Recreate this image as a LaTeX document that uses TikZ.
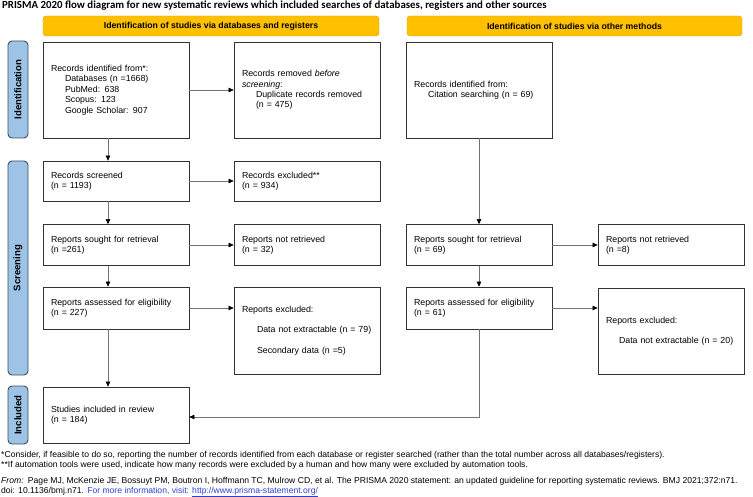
\documentclass[tikz,border=0pt]{standalone}
\usepackage{fontspec}
\setmainfont{Liberation Sans}
\newfontfamily\calibri{Carlito}
\usetikzlibrary{arrows.meta, positioning}
\definecolor{hdrfill}{HTML}{FFC000}
\definecolor{hdrline}{HTML}{D9A300}
\definecolor{barfill}{HTML}{9DC3E6}
\definecolor{barline}{HTML}{3F4F5F}
\definecolor{linkblue}{HTML}{2F3FD0}
\tikzset{>={Triangle[length=5pt,width=4.5pt,color=black]}}

\begin{document}
\begin{tikzpicture}[x=1pt,y=-1pt,
    box/.style={draw=black!80, line width=.7pt, fill=white, minimum width=146pt,
      text width=130pt, inner xsep=8pt, inner ysep=0pt, align=left,
      font=\fontsize{8.8}{10.4}\selectfont},
    hdr/.style={draw=hdrline, fill=hdrfill, rounded corners=3pt, minimum height=20pt,
      font=\fontsize{8.7}{10}\selectfont\bfseries},
    bar/.style={draw=barline, fill=barfill, line width=.9pt, rounded corners=4pt,
      rotate=90, minimum height=20pt, inner sep=0pt,
      font=\fontsize{9.6}{10}\selectfont\bfseries},
    arr/.style={->, draw=black!55, line width=.6pt},
    note/.style={anchor=north west, align=left, inner sep=0pt,
      font=\fontsize{8.6}{10}\selectfont}]
  \useasboundingbox (0,0) rectangle (753,497);

  % title and column headers
  \node (title) at (2,6) [anchor=west, inner sep=0pt,
    font=\calibri\bfseries\fontsize{10.85}{12}\selectfont]
    {PRISMA 2020 flow diagram for new systematic reviews which included searches of databases, registers and other sources};
  \node (hdrdb) at (211,26) [hdr, minimum width=336pt] {Identification of studies via databases and registers};
  \node (hdroth) at (574.5,26) [hdr, minimum width=335pt] {Identification of studies via other methods};

  % stage bars
  \node (barid) at (18,89.5) [bar, minimum width=97pt] {Identification};
  \node (barscr) at (18,268) [bar, minimum width=214pt] {Screening};
  \node (barinc) at (18,415) [bar, minimum width=58pt] {Included};

  % databases and registers
  \node (idrec) at (116,90) [box, minimum height=96pt]
    {Records identified from*:\\ \hspace*{14pt}Databases (n =1668)\\ \hspace*{14pt}PubMed: 638\\
     \hspace*{14pt}Scopus: 123\\ \hspace*{14pt}Google Scholar: 907};
  \node (idrem) at (307,90) [box, minimum height=96pt]
    {Records removed \textit{before}\\ \textit{screening}:\\ \hspace*{14pt}Duplicate records removed\\
     \hspace*{14pt}(n = 475)};
  \node (screen) at (116,181) [box, minimum height=40pt] {Records screened\\(n = 1193)};
  \node (exclrec) at (307,181) [box, minimum height=40pt] {Records excluded**\\(n = 934)};
  \node (soughtdb) at (116,245) [box, minimum height=41pt] {Reports sought for retrieval\\(n =261)};
  \node (notretdb) at (307,245) [box, minimum height=41pt] {Reports not retrieved\\(n = 32)};
  \node (assessdb) at (116,308) [box, minimum height=42pt] {Reports assessed for eligibility\\(n = 227)};
  \node (excldb) at (307,330.5) [box, minimum height=87pt]
    {Reports excluded:\\[10pt] \hspace*{15pt}Data not extractable (n = 79)\\[10pt]
     \hspace*{15pt}Secondary data (n =5)};
  \node (incl) at (116,415) [box, minimum height=56pt] {Studies included in review\\(n = 184)};

  % other methods
  \node (idoth) at (479,90) [box, minimum height=96pt]
    {Records identified from:\\ \hspace*{14pt}Citation searching (n = 69)};
  \node (soughtoth) at (479,245) [box, minimum height=41pt] {Reports sought for retrieval\\(n = 69)};
  \node (notretoth) at (671,245) [box, minimum height=41pt] {Reports not retrieved\\(n =8)};
  \node (assessoth) at (479,308) [box, minimum height=42pt] {Reports assessed for eligibility\\(n = 61)};
  \node (excloth) at (671,331) [box, minimum height=86pt]
    {Reports excluded:\\[10pt] \hspace*{13pt}Data not extractable (n = 20)};

  % arrows
  \draw [arr] ([xshift=-8pt]idrec.south) -- ([xshift=-8pt]screen.north);
  \draw [arr] ([xshift=-8pt]screen.south) -- ([xshift=-8pt]soughtdb.north);
  \draw [arr] ([xshift=-8pt]soughtdb.south) -- ([xshift=-8pt]assessdb.north);
  \draw [arr] ([xshift=-8pt]assessdb.south) -- ([xshift=-8pt]incl.north);
  \draw [arr] (idrec.east) -- (idrem.west);
  \draw [arr] (screen.east) -- (exclrec.west);
  \draw [arr] (soughtdb.east) -- (notretdb.west);
  \draw [arr] (assessdb.east) -- (assessdb.east -| excldb.west);
  \draw [arr] (idoth.south) -- (soughtoth.north);
  \draw [arr] (soughtoth.south) -- (assessoth.north);
  \draw [arr] (soughtoth.east) -- (notretoth.west);
  \draw [arr] (assessoth.east) -- (assessoth.east -| excloth.west);
  \draw [arr] (assessoth.south) |- ([yshift=-2pt]incl.east);

  % footnotes
  \node (note1) at (1,451) [note]
    {*Consider, if feasible to do so, reporting the number of records identified from each database or register searched (rather than the total number across all databases/registers).\\
     **If automation tools were used, indicate how many records were excluded by a human and how many were excluded by automation tools.};
  \node (note2) at (1,477) [note]
    {\textit{From:}\enspace Page MJ, McKenzie JE, Bossuyt PM, Boutron I, Hoffmann TC, Mulrow CD, et al. The PRISMA 2020 statement: an updated guideline for reporting systematic reviews. BMJ 2021;372:n71.\\
     doi: 10.1136/bmj.n71. \textcolor{linkblue}{For more information, visit: \underline{http://www.prisma-statement.org/}}};
\end{tikzpicture}
\end{document}
